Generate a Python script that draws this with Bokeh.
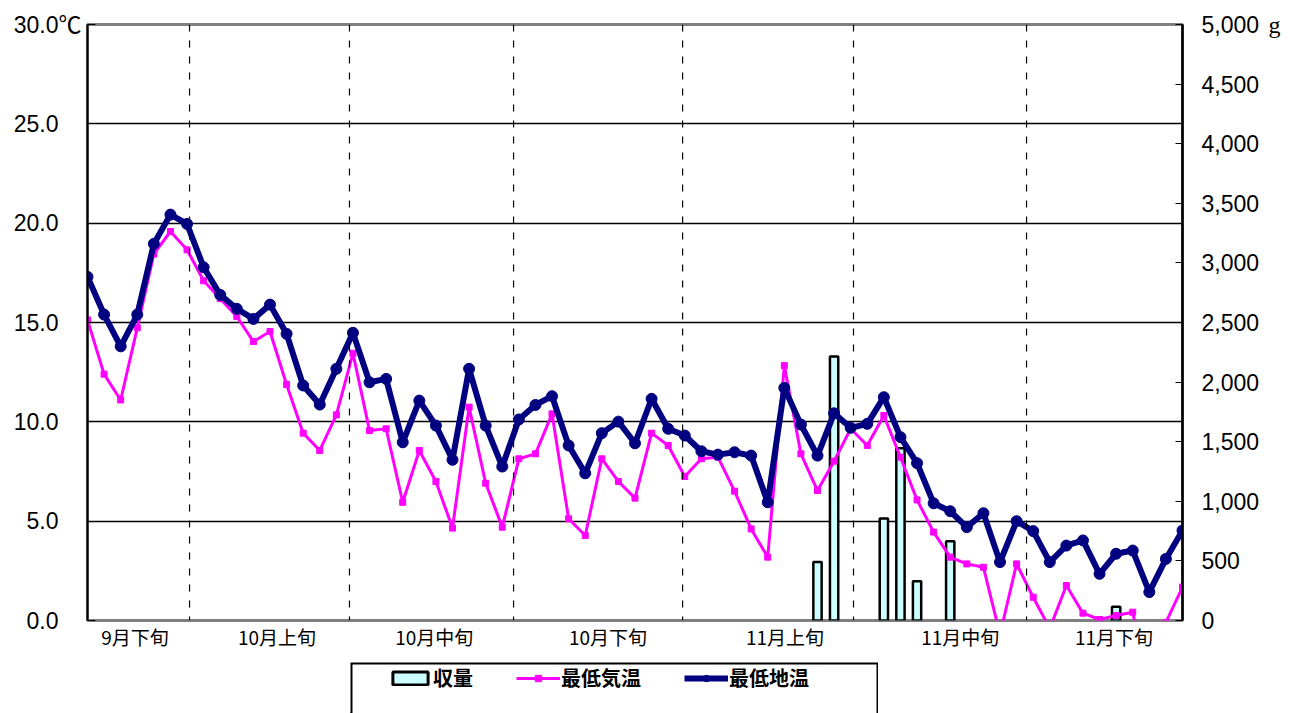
from bokeh.plotting import figure
from bokeh.models import (Range1d, LinearAxis, FixedTicker, PrintfTickFormatter,
                          NumeralTickFormatter, Span, Legend, LegendItem, Spacer)
from bokeh.layouts import column, row
from bokeh.embed import file_html
from bokeh.resources import INLINE

# ---- data ----
days = list(range(67))

soil_min = [17.3, 15.4, 13.8, 15.4, 18.96, 20.43, 19.96, 17.78, 16.39, 15.69,
            15.18, 15.9, 14.43, 11.83, 10.87, 12.67, 14.48, 11.99, 12.16, 8.97,
            11.07, 9.81, 8.09, 12.67, 9.81, 7.75, 10.12, 10.85, 11.29, 8.81,
            7.41, 9.43, 10.01, 8.92, 11.16, 9.65, 9.31, 8.52, 8.35, 8.47,
            8.3, 5.95, 11.71, 9.86, 8.3, 10.43, 9.7, 9.9, 11.24, 9.23,
            7.92, 5.9, 5.5, 4.7, 5.4, 2.94, 5.0, 4.5, 2.94, 3.77,
            4.03, 2.35, 3.36, 3.52, 1.43, 3.1, 4.53]

air_min = [15.13, 12.4, 11.1, 14.73, 18.45, 19.58, 18.66, 17.1, 16.2, 15.3,
           14.04, 14.55, 11.88, 9.43, 8.56, 10.35, 13.45, 9.56, 9.65, 5.95,
           8.56, 7.0, 4.65, 10.74, 6.91, 4.7, 8.14, 8.39, 10.4, 5.12,
           4.28, 8.14, 7.0, 6.16, 9.43, 8.81, 7.25, 8.14, 8.22, 6.51,
           4.61, 3.19, 12.83, 8.39, 6.54, 8.02, 9.65, 8.81, 10.32, 8.22,
           6.07, 4.45, 3.19, 2.85, 2.68, -0.7, 2.85, 1.17, -0.4, 1.76,
           0.37, 0.05, 0.25, 0.42, -3.6, -0.1, 1.68]

harvest = [0, 0, 0, 0, 0, 0, 0, 0, 0, 0,
           0, 0, 0, 0, 0, 0, 0, 0, 0, 0,
           0, 0, 0, 0, 0, 0, 0, 0, 0, 0,
           0, 0, 0, 0, 0, 0, 0, 0, 0, 0,
           0, 0, 0, 0, 490, 2215, 0, 0, 855, 1445,
           330, 0, 665, 0, 0, 0, 0, 0, 0, 0,
           0, 0, 115, 0, 0, 0, 0]

period_labels = ["9月下旬", "10月上旬", "10月中旬", "10月下旬", "11月上旬", "11月中旬", "11月下旬"]
period_label_pos = [2.87, 11.42, 20.9, 31.37, 42.04, 52.6, 61.87]
period_bounds = [6.15, 15.79, 25.68, 35.87, 46.17, 56.6]

temp_ticks = [0, 5, 10, 15, 20, 25, 30]
harvest_ticks = [0, 500, 1000, 1500, 2000, 2500, 3000, 3500, 4000, 4500, 5000]
temp_unit = "℃"
harvest_unit = "g"

# ---- main chart ----
p = figure(width=1293, height=655, x_range=Range1d(0, 66), y_range=Range1d(0, 30),
           output_backend="svg", toolbar_location=None,
           min_border_left=87, min_border_right=111, min_border_top=24, min_border_bottom=35)
p.extra_y_ranges = {"harvest": Range1d(0, 5000)}
p.background_fill_color = "white"
p.outline_line_color = "#808080"
p.outline_line_width = 3

p.xgrid.visible = False
p.ygrid.ticker = FixedTicker(ticks=[5, 10, 15, 20, 25])
p.ygrid.grid_line_color = "black"
p.ygrid.grid_line_width = 1.3

# left axis: numbers, the unit after the top value (other labels padded by a full-width blank)
ya = p.yaxis[0]
ya.ticker = FixedTicker(ticks=temp_ticks)
ya.formatter = PrintfTickFormatter(format="%.1f")
ya.major_label_overrides = {t: ("%.1f" % t) + (temp_unit if t == temp_ticks[-1] else "\u3000")
                            for t in temp_ticks}
ya.major_tick_in = 8
ya.major_tick_out = 0
ya.minor_tick_line_color = None
ya.axis_line_width = 2
ya.axis_line_color = "black"
ya.major_label_text_font = "Liberation Sans, Noto Sans CJK JP"
ya.major_label_text_font_size = "23px"
ya.major_label_text_color = "black"
ya.major_label_standoff = 6

# right axis: numbers
ra = LinearAxis(y_range_name="harvest", ticker=FixedTicker(ticks=harvest_ticks),
                formatter=NumeralTickFormatter(format="0,0"))
ra.major_tick_in = 7
ra.major_tick_out = 0
ra.minor_tick_line_color = None
ra.axis_line_width = 2.5
ra.axis_line_color = "black"
ra.major_label_text_font = "Liberation Sans"
ra.major_label_text_font_size = "23px"
ra.major_label_text_color = "black"
ra.major_label_standoff = 19
p.add_layout(ra, "right")

# outer right axis: only the unit at the top value
ra2 = LinearAxis(y_range_name="harvest", ticker=FixedTicker(ticks=harvest_ticks))
ra2.major_label_overrides = {t: (harvest_unit if t == harvest_ticks[-1] else "") for t in harvest_ticks}
ra2.axis_line_color = None
ra2.major_tick_line_color = None
ra2.minor_tick_line_color = None
ra2.major_label_text_font = "Liberation Serif"
ra2.major_label_text_font_size = "24px"
ra2.major_label_text_color = "black"
ra2.major_label_standoff = 0
p.add_layout(ra2, "right")

xa = p.xaxis[0]
xa.ticker = FixedTicker(ticks=period_label_pos)
xa.major_label_overrides = dict(zip(period_label_pos, period_labels))
xa.major_tick_line_color = None
xa.minor_tick_line_color = None
xa.axis_line_color = None
xa.major_label_text_font = "Noto Sans CJK JP"
xa.major_label_text_font_size = "19px"
xa.major_label_text_color = "black"
xa.major_label_standoff = -4

for b in period_bounds:
    p.add_layout(Span(location=b, dimension="height", line_color="black",
                      line_width=1.2, line_dash="7 9"))

hx = [d for d, h in zip(days, harvest) if h > 0]
ht = [h for h in harvest if h > 0]
p.vbar(x=hx, top=ht, bottom=0, width=0.5, y_range_name="harvest",
       fill_color="#CCFFFF", line_color="black", line_width=2.5)

p.line(days, air_min, line_color="#FF00FF", line_width=3)
p.scatter(days, air_min, marker="square", size=6, color="#FF00FF")
p.line(days, soil_min, line_color="#000080", line_width=6)
p.scatter(days, soil_min, marker="circle", size=11, color="#000080")

# ---- legend box ----
p2 = figure(width=528, height=58, x_range=Range1d(0, 1), y_range=Range1d(0, 1),
            output_backend="svg", toolbar_location=None, min_border=0, min_border_top=7,
            x_axis_location=None, y_axis_location=None)
p2.outline_line_color = None
p2.grid.visible = False
p2.line(x=[0, 0, 1, 1], y=[0, 1, 1, 0], line_color="black", line_width=4)

# off-range samples so that the legend can draw each swatch
rb = p2.vbar(x=[-5], top=[-5], bottom=[-6], width=0.5, fill_color="#CCFFFF",
             line_color="black", line_width=3)
rl1 = p2.line(x=[-5, -4], y=[-5, -5], line_color="#FF00FF", line_width=3)
rs1 = p2.scatter(x=[-5], y=[-5], marker="square", size=6, color="#FF00FF")
rl2 = p2.line(x=[-5, -4], y=[-5, -5], line_color="#000080", line_width=6)
rs2 = p2.scatter(x=[-5], y=[-5], marker="circle", size=11, color="#000080")

legend = Legend(items=[LegendItem(label="収量", renderers=[rb]),
                       LegendItem(label="最低気温", renderers=[rl1, rs1]),
                       LegendItem(label="最低地温", renderers=[rl2, rs2])],
                orientation="horizontal", location=(38, 21), padding=0, margin=0,
                border_line_color=None, background_fill_alpha=0,
                glyph_width=44, glyph_height=16, label_standoff=1, spacing=43,
                label_text_font="Noto Sans CJK JP", label_text_font_style="bold",
                label_text_font_size="20px", label_text_color="black")
p2.add_layout(legend)

layout = column(p, row(Spacer(width=350, height=58), p2))

open("out.html", "w").write(file_html(layout, INLINE))
